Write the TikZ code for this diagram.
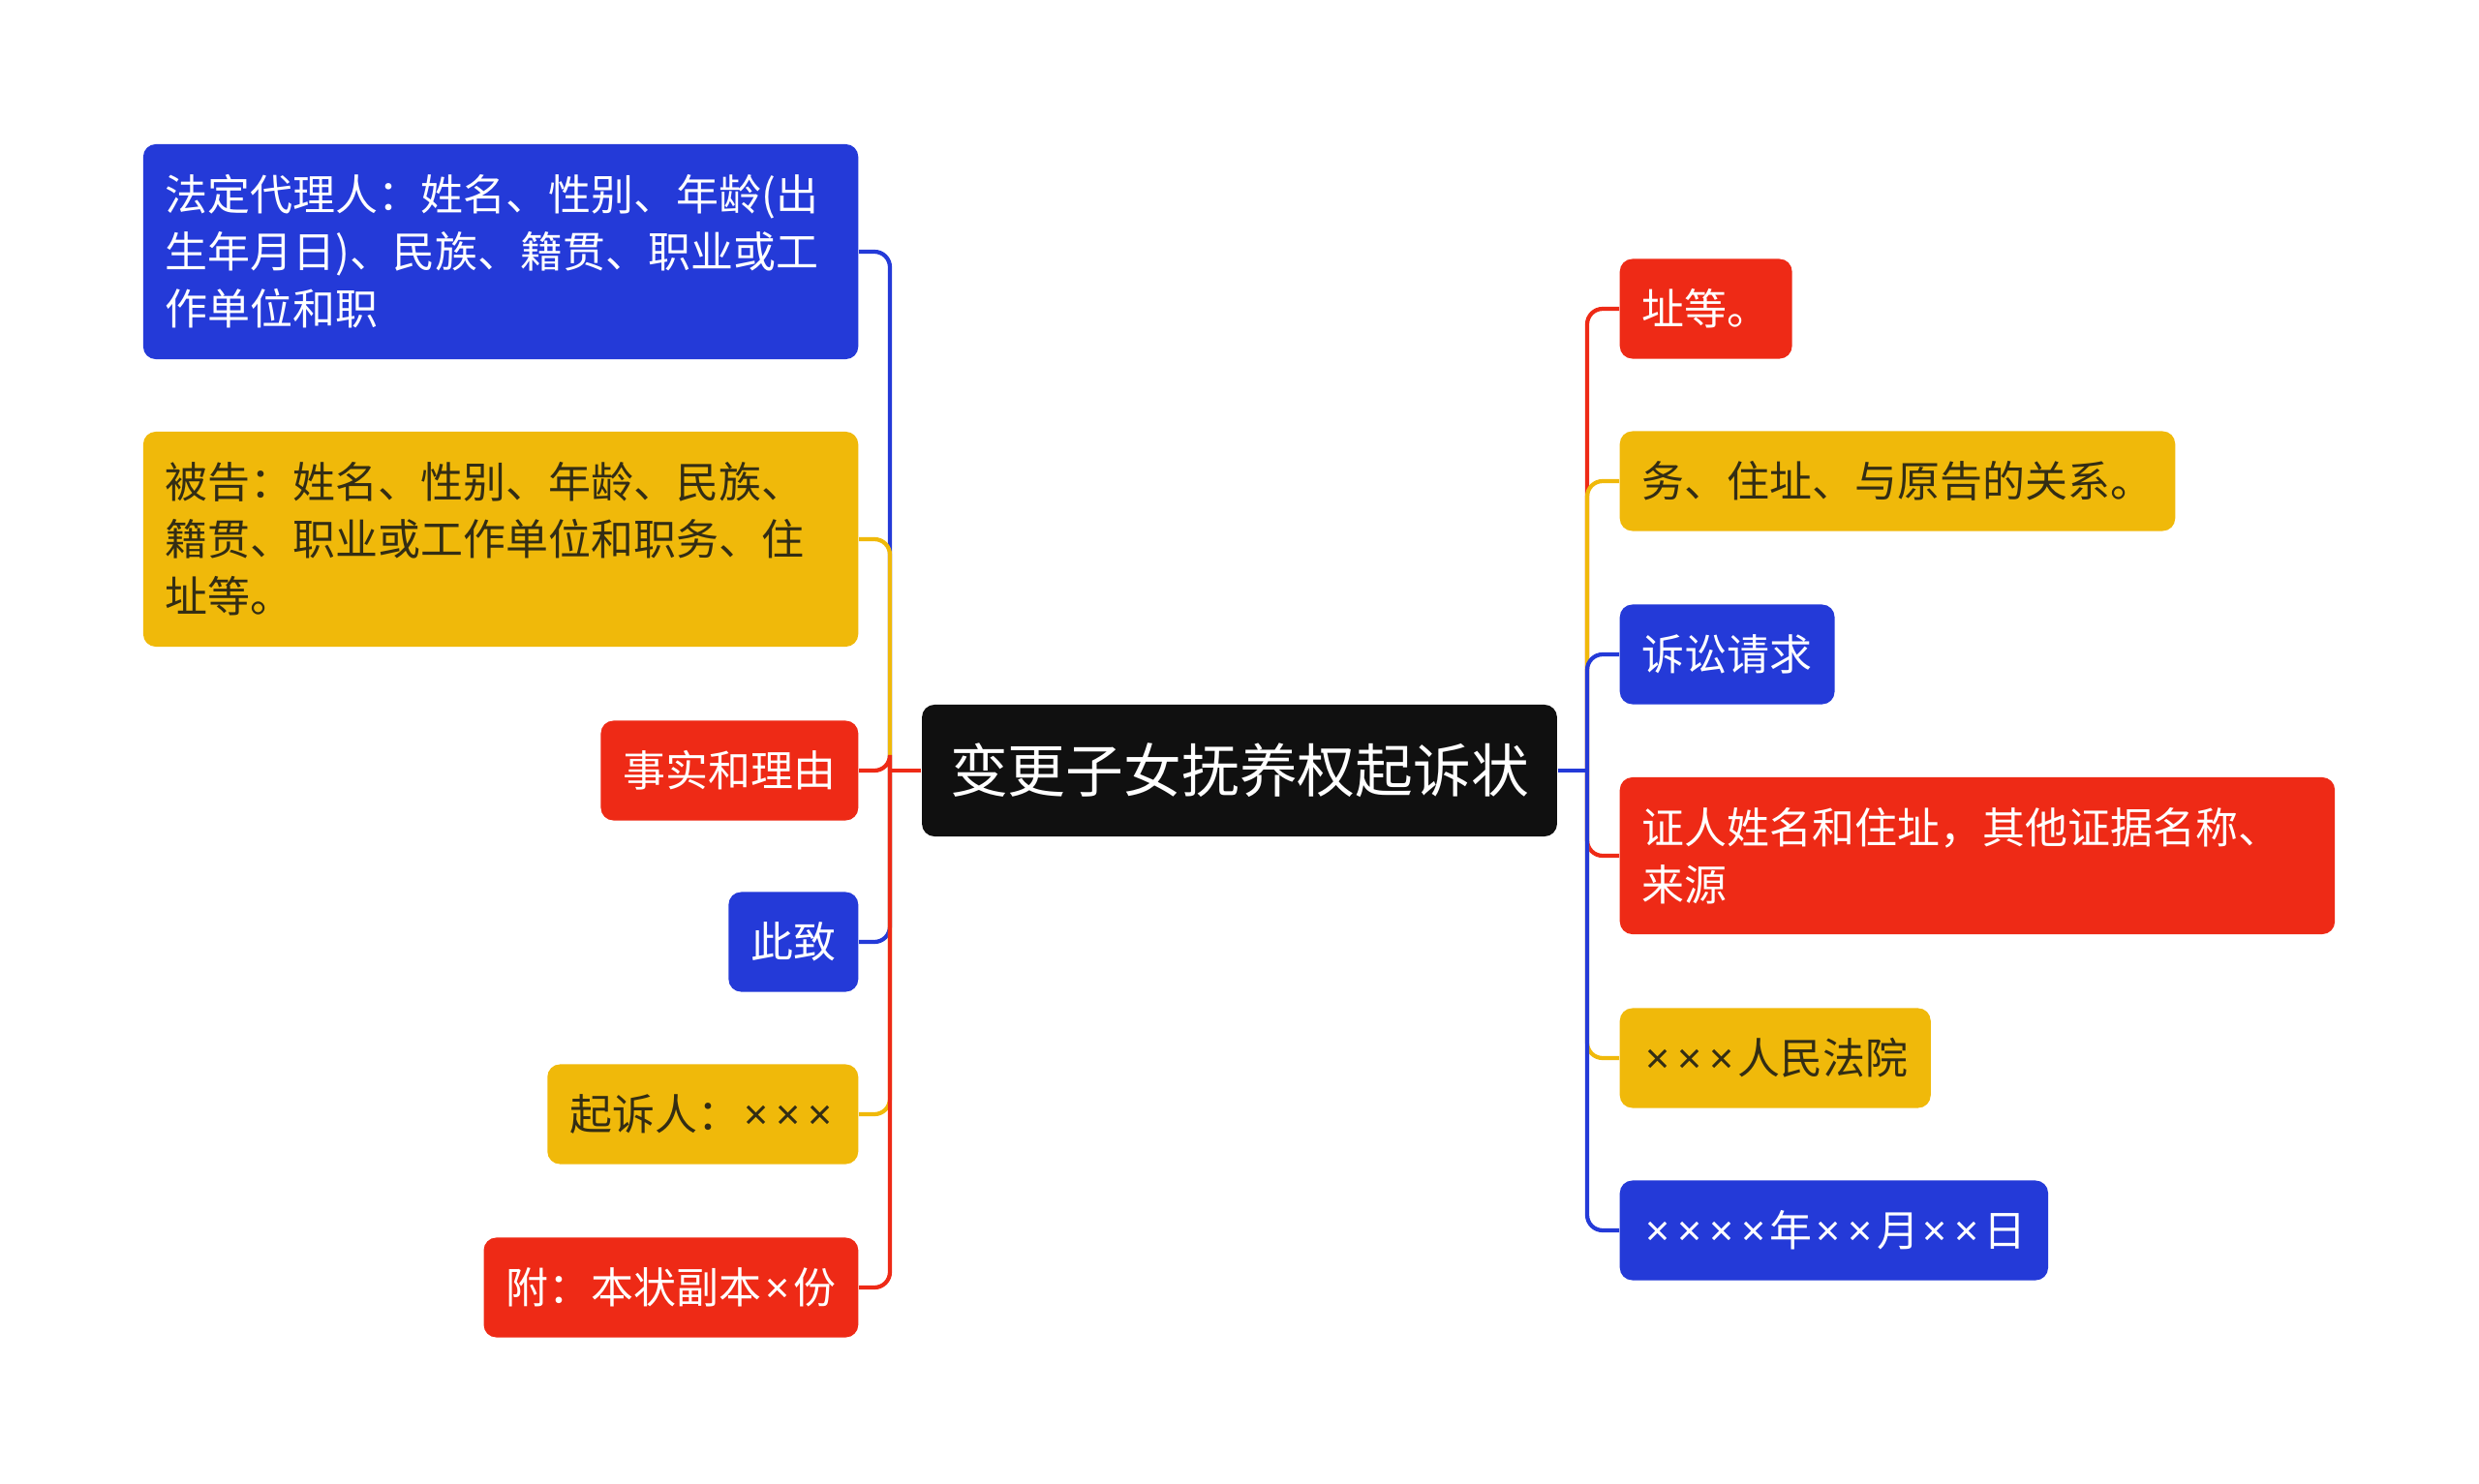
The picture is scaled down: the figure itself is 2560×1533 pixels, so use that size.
\documentclass[tikz,border=0pt]{standalone}
\usepackage{fontspec}
\setmainfont{Noto Sans CJK SC}
\newfontfamily\latinfont{Noto Sans}
\usetikzlibrary{positioning}

\definecolor{mapblue}{RGB}{36,58,216}
\definecolor{mapyellow}{RGB}{240,185,10}
\definecolor{mapred}{RGB}{238,42,22}
\definecolor{maproot}{RGB}{16,16,16}
\definecolor{maptext}{RGB}{51,45,20}

% narrow multiplication sign
\newcommand{\tms}{{\latinfont\kern0.09em×\kern0.09em}}

\tikzset{
  topic/.style={rounded corners=0.13cm, inner xsep=0.23cm, inner ysep=0pt,
    minimum height=1.03cm, font=\fontsize{12.5}{16.8}\selectfont, align=left},
  bluebox/.style={topic, fill=mapblue, text=white},
  yellowbox/.style={topic, fill=mapyellow, text=maptext},
  redbox/.style={topic, fill=mapred, text=white},
  widebox/.style={text width=6.92cm},
  rootbox/.style={rounded corners=0.13cm, fill=maproot, text=white,
    inner xsep=0.29cm, inner ysep=0pt, minimum height=1.36cm,
    font=\fontsize{17}{20}\selectfont},
  link/.style={line width=1.2pt, rounded corners=0.16cm},
}

\begin{document}
\begin{tikzpicture}[x=0.01cm, y=-0.01cm]
  \useasboundingbox (0,0) rectangle (2560,1533);

  % root
  \node[rootbox] (root) at (1280,796) {变更子女抚养权起诉状};

  % left branch
  \node[bluebox, widebox, minimum height=2.22cm, anchor=east] (l1) at (887,260)
    {法定代理人：姓名、性别、年龄(出\\生年月日)、民族、籍贯、职业或工\\作单位和职};
  \node[yellowbox, widebox, minimum height=2.22cm, anchor=east] (l2) at (887,557)
    {被告：姓名、性别、年龄、民族、\\籍贯、职业或工作单位和职务、住\\址等。};
  \node[redbox, anchor=east] (l3) at (887,796) {事实和理由};
  \node[bluebox, anchor=east] (l4) at (887,973) {此致};
  \node[yellowbox, anchor=east] (l5) at (887,1151) {起诉人：\tms\tms\tms};
  \node[redbox, anchor=east] (l6) at (887,1330) {附：本状副本\tms 份};

  % right branch
  \node[redbox, anchor=west] (r1) at (1672,319) {址等。};
  \node[yellowbox, anchor=west] (r2) at (1672,497) {务、住址、与原告的关系。};
  \node[bluebox, anchor=west] (r3) at (1672,676) {诉讼请求};
  \node[redbox, widebox, minimum height=1.62cm, anchor=west] (r4) at (1672,884)
    {证人姓名和住址，其他证据名称、\\来源};
  \node[yellowbox, anchor=west] (r5) at (1672,1093) {\tms\tms\tms 人民法院};
  \node[bluebox, anchor=west] (r6) at (1672,1271) {\tms\tms\tms\tms 年\tms\tms 月\tms\tms 日};

  % connectors
  \coordinate (lj) at (919,796);
  \coordinate (rj) at (1639,796);

  \foreach \n/\c in {l1/mapblue, l2/mapyellow, l3/mapred, l4/mapblue, l5/mapyellow, l6/mapred}
    \draw[link, \c] (lj) |- (\n.east);
  \draw[link, mapred] (root.west) -- (lj);

  \foreach \n/\c in {r1/mapred, r2/mapyellow, r3/mapblue, r4/mapred, r5/mapyellow, r6/mapblue}
    \draw[link, \c] (rj) |- (\n.west);
  \draw[link, mapblue] (root.east) -- (rj);
\end{tikzpicture}
\end{document}
